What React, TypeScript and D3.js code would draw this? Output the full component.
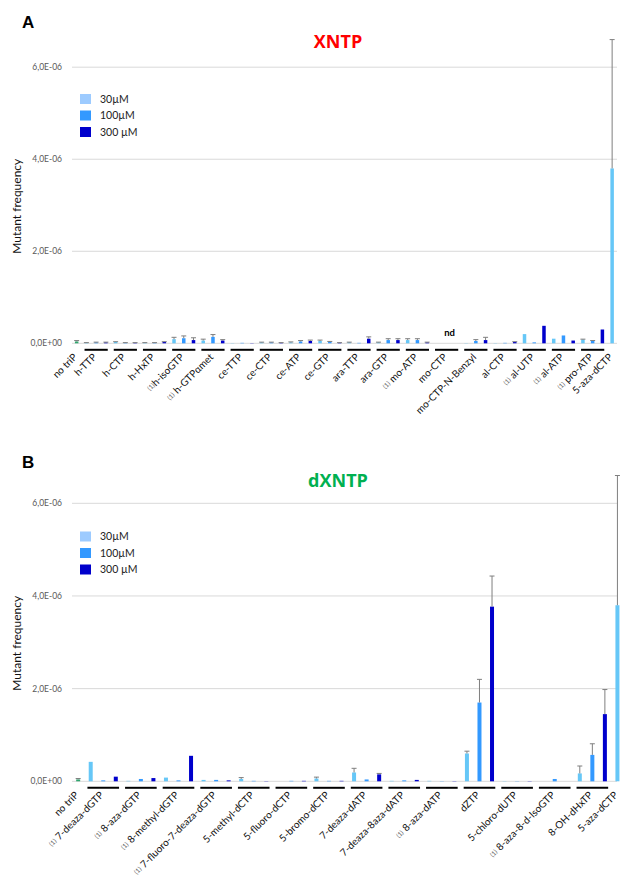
import React from "react";
import * as d3 from "d3";

// ---------- Panel A (XNTP) ----------
const groupsA = [
  "h-TTP", "h-CTP", "h-HxTP", "(1)h-isoGTP", "(1) h-GTPαmet", "ce-TTP", "ce-CTP", "ce-ATP", "ce-GTP",
  "ara-TTP", "ara-GTP", "(1) mo-ATP", "mo-CTP", "mo-CTP-N-Benzyl", "al-CTP", "(1) al-UTP", "(1) al-ATP", "(1) pro-ATP",
];
// values in units of 1e-6 ; null = not determined
const a30 = [0.01, 0.03, 0.01, 0.09, 0.06, 0.005, 0.02, 0.02, 0.05, 0.02, 0.02, 0.07, null, 0.005, 0.005, 0.2, 0.1, 0.08];
const a100 = [0.02, 0.01, 0.01, 0.11, 0.14, 0.01, 0.02, 0.04, 0.03, 0.01, 0.07, 0.07, null, 0.05, 0.01, 0.02, 0.17, 0.05];
const a300 = [0.02, 0.01, 0.03, 0.07, 0.06, 0.005, 0.01, 0.05, 0.01, 0.1, 0.07, 0.02, null, 0.07, 0.03, 0.38, 0.06, 0.3];
const e30A = [0.005, 0.005, 0.005, 0.04, 0.03, 0, 0.005, 0.01, 0.02, 0.005, 0.005, 0.03, null, 0, 0, 0, 0, 0.01];
const e100A = [0.005, 0.005, 0.005, 0.05, 0.05, 0, 0.005, 0.02, 0.01, 0, 0.03, 0.03, null, 0.03, 0, 0, 0, 0.01];
const e300A = [0.005, 0.005, 0.005, 0.05, 0.02, 0, 0.005, 0.02, 0.005, 0.04, 0.03, 0.005, null, 0.06, 0.005, 0, 0, 0];
const ctrlA = 0.04;
const ctrlErrA = 0.02;
const azaA = 3.8;
const azaErrA = 2.8;

// ---------- Panel B (dXNTP) ----------
const groupsB = [
  "(1) 7-deaza-dGTP", "(1) 8-aza-dGTP", "(1) 8-methyl-dGTP", "(1) 7-fluoro-7-deaza-dGTP", "5-methyl-dCTP",
  "5-fluoro-dCTP", "5-bromo-dCTP", "7-deaza-dATP", "7-deaza-8aza-dATP", "(1) 8-aza-dATP", "dZTP",
  "5-chloro-dUTP", "(1) 8-aza-8-d-IsoGTP", "8-OH-dHxTP",
];
const b30 = [0.42, 0.01, 0.08, 0.03, 0.05, 0, 0.06, 0.19, 0.01, 0.01, 0.6, 0.005, 0, 0.17];
const b100 = [0.02, 0.05, 0.02, 0.03, 0.01, 0.01, 0.01, 0.04, 0.02, 0.005, 1.7, 0.005, 0.05, 0.57];
const b300 = [0.1, 0.07, 0.55, 0.02, 0.005, 0.01, 0.01, 0.15, 0.03, 0.005, 3.77, 0.005, 0, 1.45];
const e30B = [0, 0, 0, 0, 0.03, 0, 0.03, 0.09, 0, 0, 0.05, 0, 0, 0.16];
const e100B = [0, 0, 0, 0, 0, 0, 0, 0, 0, 0, 0.5, 0, 0, 0.24];
const e300B = [0, 0, 0, 0, 0, 0, 0, 0.02, 0, 0, 0.66, 0, 0, 0.53];
const ctrlB = 0.04;
const ctrlErrB = 0.02;
const azaB = 3.8;
const azaErrB = 2.8;

const yTicks = [0, 2, 4, 6];
const yTickLabels = ["0,0E+00", "2,0E-06", "4,0E-06", "6,0E-06"];
const legendLabels = ["30µM", "100µM", "300 µM"];

const barColors = ["#66C7F7", "#3399FF", "#0000CC"];
const legendColors = ["#9DCBFF", "#3399FF", "#0000CC"];
const ctrlColor = "#2FA56E";
const errColor = "#7F7F7F";
const FONT = "Lato, 'Open Sans', sans-serif";

type PanelProps = {
  letter: string;
  title: string;
  titleColor: string;
  groups: string[];
  v30: (number | null)[];
  v100: (number | null)[];
  v300: (number | null)[];
  e30: (number | null)[];
  e100: (number | null)[];
  e300: (number | null)[];
  ctrl: number;
  ctrlErr: number;
  aza: number;
  azaErr: number;
  baseY: number;
  topY: number;
  xRange: [number, number];
  barW: number;
  letterY: number;
  titleY: number;
  legendY: number;
  ndIndex?: number;
};

function Label({ text, x, y }: { text: string; x: number; y: number }) {
  const has = text.startsWith("(1)");
  const rest = has ? text.slice(3) : text;
  return (
    <text
      transform={`translate(${x},${y}) rotate(-45)`}
      textAnchor="end"
      dy="0.72em"
      fontSize={10}
      fontFamily={FONT}
      fill="#111"
    >
      {has && (
        <tspan fontSize={6.5} fill="#666" dy="-1">
          (1)
        </tspan>
      )}
      <tspan dy={has ? 1 : 0}>{rest}</tspan>
    </text>
  );
}

function Panel(p: PanelProps) {
  const nSlots = 1 + p.groups.length * 3 + 1;
  const x = d3.scaleLinear().domain([0, nSlots]).range(p.xRange);
  const y = d3.scaleLinear().domain([0, 6]).range([p.baseY, p.topY]);
  const slotC = (i: number) => x(i + 0.5);
  const underY = p.baseY + 6.5;
  const bars: { cx: number; v: number; e: number; color: string }[] = [];
  bars.push({ cx: slotC(0), v: p.ctrl, e: p.ctrlErr, color: ctrlColor });
  const series = [p.v30, p.v100, p.v300];
  const errs = [p.e30, p.e100, p.e300];
  p.groups.forEach((_, g) => {
    for (let s = 0; s < 3; s++) {
      const v = series[s][g];
      if (v == null) continue;
      bars.push({ cx: slotC(1 + g * 3 + s), v, e: errs[s][g] ?? 0, color: barColors[s] });
    }
  });
  bars.push({ cx: slotC(nSlots - 1), v: p.aza, e: p.azaErr, color: barColors[0] });

  const labels: { text: string; cx: number }[] = [];
  labels.push({ text: "no triP", cx: slotC(0) });
  p.groups.forEach((gname, g) => labels.push({ text: gname, cx: slotC(1 + g * 3 + 1) }));
  labels.push({ text: "5-aza-dCTP", cx: slotC(nSlots - 1) });

  const midY = (p.baseY + p.topY) / 2;
  return (
    <g>
      <text x={22} y={p.letterY} fontSize={17} fontWeight="bold" fontFamily="'Liberation Sans', Arial, sans-serif">
        {p.letter}
      </text>
      <text x={338} y={p.titleY} textAnchor="middle" fontSize={18} fontWeight="bold" fill={p.titleColor} fontFamily="'Open Sans', sans-serif">
        {p.title}
      </text>
      {yTicks.map((t, i) => (
        <g key={t}>
          <line x1={72} x2={617} y1={y(t)} y2={y(t)} stroke="#D9D9D9" strokeWidth={1} />
          <text x={62} y={y(t) + 3} textAnchor="end" fontSize={8.5} fill="#595959" fontFamily={FONT}>
            {yTickLabels[i]}
          </text>
        </g>
      ))}
      <text
        transform={`translate(21,${midY + 1}) rotate(-90)`}
        textAnchor="middle"
        fontSize={12}
        fontFamily={FONT}
        fill="#111"
      >
        Mutant frequency
      </text>
      {legendLabels.map((l, i) => (
        <g key={l}>
          <rect x={80} y={p.legendY + i * 16.5} width={11} height={10} fill={legendColors[i]} />
          <text x={100} y={p.legendY + i * 16.5 + 8.5} fontSize={10.5} fontFamily={FONT} fill="#222">
            {l}
          </text>
        </g>
      ))}
      {bars.map((b, i) => (
        <g key={i}>
          <rect x={b.cx - p.barW / 2} y={y(b.v)} width={p.barW} height={Math.max(0, y(0) - y(b.v))} fill={b.color} />
          {b.e > 0 && (
            <g stroke={errColor} strokeWidth={1}>
              <line x1={b.cx} x2={b.cx} y1={y(b.v)} y2={y(b.v + b.e)} />
              <line x1={b.cx - 2.5} x2={b.cx + 2.5} y1={y(b.v + b.e)} y2={y(b.v + b.e)} />
            </g>
          )}
        </g>
      ))}
      {p.groups.map((_, g) => (
        <line
          key={g}
          x1={x(1 + g * 3) + 3}
          x2={x(4 + g * 3) - 3}
          y1={underY}
          y2={underY}
          stroke="#000"
          strokeWidth={2}
        />
      ))}
      {p.ndIndex != null && (
        <text x={slotC(1 + p.ndIndex * 3 + 1) + 3} y={p.baseY - 7} textAnchor="middle" fontSize={9.5} fontWeight="bold" fontFamily={FONT}>
          nd
        </text>
      )}
      {labels.map((l, i) => (
        <Label key={i} text={l.text} x={l.cx + 1} y={underY + 8} />
      ))}
    </g>
  );
}

export default function App() {
  return (
    <svg
      width={621}
      height={876}
      style={{ position: "absolute", left: 0, top: 0, background: "#fff" }}
    >
      <rect width={621} height={876} fill="#fff" />
      <Panel
        letter="A"
        title="XNTP"
        titleColor="#FF0000"
        groups={groupsA}
        v30={a30}
        v100={a100}
        v300={a300}
        e30={e30A}
        e100={e100A}
        e300={e300A}
        ctrl={ctrlA}
        ctrlErr={ctrlErrA}
        aza={azaA}
        azaErr={azaErrA}
        baseY={343.3}
        topY={67.2}
        xRange={[71.8, 617]}
        barW={3.5}
        letterY={28}
        titleY={48}
        legendY={94}
        ndIndex={12}
      />
      <Panel
        letter="B"
        title="dXNTP"
        titleColor="#00B050"
        groups={groupsB}
        v30={b30}
        v100={b100}
        v300={b300}
        e30={e30B}
        e100={e100B}
        e300={e300B}
        ctrl={ctrlB}
        ctrlErr={ctrlErrB}
        aza={azaB}
        azaErr={azaErrB}
        baseY={781.3}
        topY={503.3}
        xRange={[71.9, 623.7]}
        barW={4}
        letterY={468}
        titleY={487}
        legendY={531.5}
      />
    </svg>
  );
}
